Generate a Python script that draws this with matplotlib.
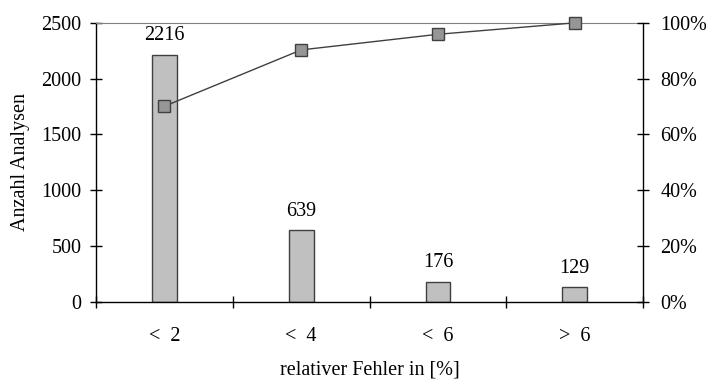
import matplotlib
matplotlib.use("Agg")
import matplotlib.pyplot as plt
import numpy as np

plt.rcParams['font.family'] = ['Liberation Serif', 'DejaVu Serif']

categories = ["<  2", "<  4", "<  6", ">  6"]
counts = [2216, 639, 176, 129]
cumulative_pct = [70.1, 90.3, 95.9, 100.0]
left_ticks = [0, 500, 1000, 1500, 2000, 2500]
right_ticks = [0, 20, 40, 60, 80, 100]

FS = 14.5

fig = plt.figure(figsize=(7.06, 3.81), dpi=100)
ax = fig.add_axes([0.136, 0.208, 0.775, 0.732])
x = np.arange(len(categories))

ax.bar(x, counts, width=0.18, color="#c0c0c0", edgecolor="#404040", linewidth=1.0, zorder=2)
for xi, v in zip(x, counts):
    ax.annotate(str(v), (xi, v), xytext=(0, 7), textcoords="offset points",
                ha="center", va="bottom", fontsize=FS)

ax.set_xlim(-0.5, len(categories) - 0.5)
ax.set_ylim(0, 2500)
ax.set_yticks(left_ticks)
ax.set_xticks(np.arange(len(categories) + 1) - 0.5, minor=False)
ax.set_xticklabels([])
ax.set_xticks(x, minor=True)
ax.set_xticklabels(categories, minor=True, fontsize=FS)
ax.tick_params(axis="x", which="major", direction="inout", length=9, width=1)
ax.tick_params(axis="x", which="minor", length=0, pad=18)
ax.tick_params(axis="y", direction="inout", length=9, width=1, labelsize=FS, pad=6)
ax.spines["top"].set_color("#808080")
ax.spines["right"].set_visible(False)
ax.spines["left"].set_linewidth(1)
ax.spines["bottom"].set_linewidth(1)
ax.set_ylabel("Anzahl Analysen", fontsize=FS, labelpad=8)
fig.text(ax.get_position().x0 + ax.get_position().width / 2, 1 - 370 / 381,
         "relativer Fehler in [%]", fontsize=FS, ha="center", va="center")

ax2 = ax.twinx()
ax2.plot(x, cumulative_pct, color="#404040", linewidth=1.0, marker="s", markersize=9,
         markerfacecolor="#969696", markeredgecolor="#404040", markeredgewidth=1.0,
         zorder=3, clip_on=False)
ax2.set_ylim(0, 100)
ax2.set_yticks(right_ticks)
ax2.set_yticklabels([f"{t}%" for t in right_ticks])
ax2.tick_params(axis="y", direction="inout", length=9, width=1, labelsize=FS, pad=8)
for s in ("top", "left", "bottom"):
    ax2.spines[s].set_visible(False)
ax2.spines["right"].set_linewidth(1)

fig.savefig("out.png", dpi=100)
